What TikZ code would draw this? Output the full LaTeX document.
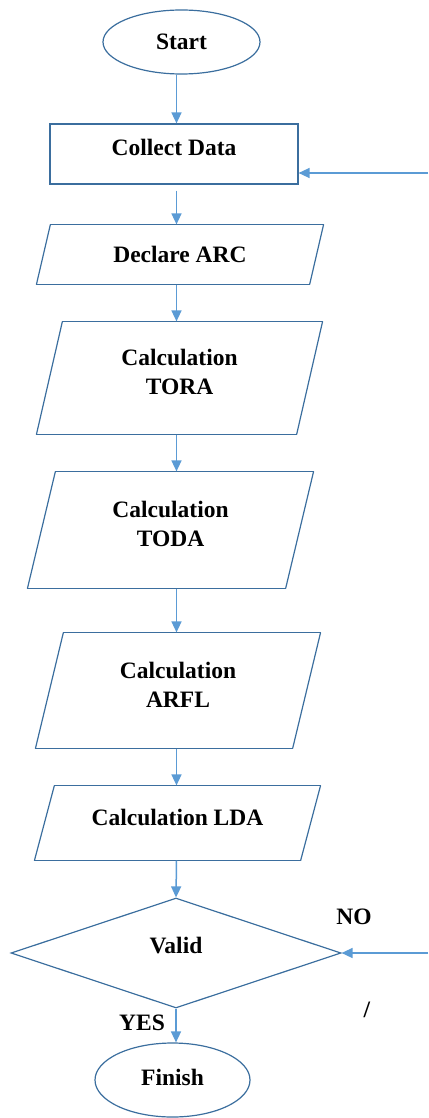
\documentclass[tikz,border=0pt]{standalone}
\usepackage{fontspec}
\setmainfont{Liberation Serif}
\usetikzlibrary{shapes.geometric,arrows.meta}
\definecolor{edgeblue}{HTML}{3B6E9E}
\definecolor{flowblue}{HTML}{5B9BD5}
\tikzset{
  base/.style={draw=edgeblue, line width=1.2pt, align=center, inner sep=0pt,
    font=\fontsize{23.5}{29}\selectfont\bfseries},
  outline/.style={draw=edgeblue, line width=1.2pt, line join=miter},
  terminal/.style={base, ellipse},
  procbox/.style={base, rectangle},
  % parallelogram: #1 total width, #2 half of the slant
  iobox/.style 2 args={base, draw=none, rectangle, minimum width={#1-2*#2},
    append after command={
      ([xshift=#2]\tikzlastnode.north west) edge[outline] ([xshift=#2]\tikzlastnode.north east)
      ([xshift=#2]\tikzlastnode.north east) edge[outline] ([xshift=-#2]\tikzlastnode.south east)
      ([xshift=-#2]\tikzlastnode.south east) edge[outline] ([xshift=-#2]\tikzlastnode.south west)
      ([xshift=-#2]\tikzlastnode.south west) edge[outline] ([xshift=#2]\tikzlastnode.north west)}},
  decision/.style={base, diamond},
  flow/.style={draw=flowblue, line width=1.5pt, -{Triangle[width=10pt,length=11pt]}},
  tag/.style={inner sep=0pt, font=\fontsize{23.5}{29}\selectfont\bfseries},
}
\begin{document}
\begin{tikzpicture}[x=1pt,y=-1pt]
    \useasboundingbox (0,0) rectangle (428,1118);
    \coordinate (spine) at (176.5,0);
    % main column
    \node[terminal, minimum width=157pt, minimum height=64pt] (start) at (181.5,42) {Start};
    \node[procbox, minimum width=248pt, minimum height=60pt, text depth=14pt] (collect) at (174,154) {Collect Data};
    \node[iobox={286pt}{7pt}, minimum height=59pt] (declare) at (180,254.5) {Declare ARC};
    \node[iobox={285pt}{13pt}, minimum height=112pt, text depth=12pt] (tora) at (179.5,378) {Calculation\\TORA};
    \node[iobox={285pt}{14pt}, minimum height=116pt, text depth=12pt] (toda) at (170.5,530) {Calculation\\TODA};
    \node[iobox={284pt}{14pt}, minimum height=115pt, text depth=12pt] (arfl) at (178,690.5) {Calculation\\ARFL};
    \node[iobox={285pt}{10pt}, minimum height=74pt, text depth=12pt] (lda) at (177.5,823) {Calculation LDA};
    \node[decision, minimum width=330pt, minimum height=110pt, text depth=16pt] (valid) at (176,953) {Valid};
    \node[terminal, minimum width=155pt, minimum height=74pt, text depth=6pt] (finish) at (172.5,1080) {Finish};
    % branch labels
    \node[tag] (no) at (354,917) {NO};
    \node[tag] (slash) at (367,1010) {/};
    \node[tag] (yes) at (142,1023) {YES};
    % loop-back entries
    \coordinate (backtop) at (428,173);
    \coordinate (backlow) at (428,953);
    % connectors
    \draw[flow] (start.south -| spine) -- (collect.north -| spine);
    \draw[flow, shorten <=6pt] (collect.south -| spine) -- (declare.north -| spine);
    \draw[flow] (declare.south -| spine) -- (tora.north -| spine);
    \draw[flow] (tora.south -| spine) -- (toda.north -| spine);
    \draw[flow] (toda.south -| spine) -- (arfl.north -| spine);
    \draw[flow] (arfl.south -| spine) -- (lda.north -| spine);
    \draw[flow] (lda.south -| spine) -- (valid.north);
    \draw[flow] (valid.south) -- (finish.north -| valid.south);
    \draw[flow] (backtop) -- (backtop -| collect.east);
    \draw[flow] (backlow) -- (valid.east);
\end{tikzpicture}
\end{document}
